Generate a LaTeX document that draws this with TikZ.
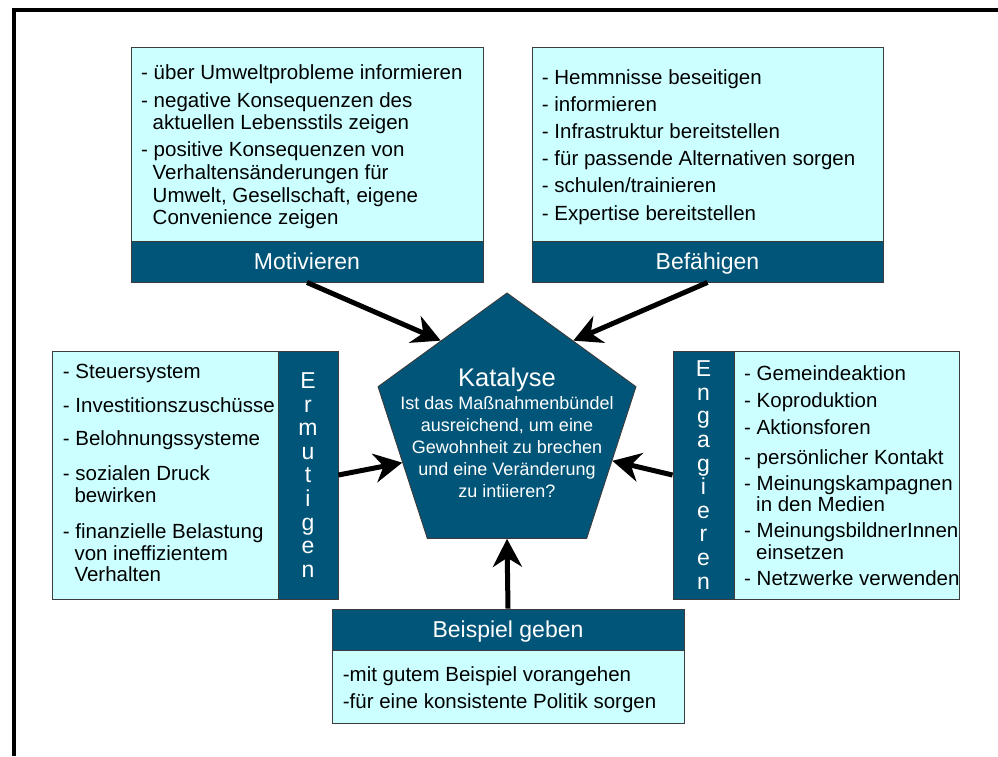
\documentclass[tikz,border=0pt]{standalone}
\usepackage{fontspec}
\setmainfont{Liberation Sans}
\usetikzlibrary{shapes.geometric,arrows.meta}
\definecolor{lightc}{RGB}{204,255,255}
\definecolor{darkc}{RGB}{0,85,120}
\definecolor{edgec}{RGB}{60,60,60}
\begin{document}
\begin{tikzpicture}[x=1pt,y=-1pt,
  lightbox/.style={draw=edgec, line width=0.9pt, fill=lightc, inner sep=0pt},
  darkbox/.style={draw=edgec, line width=0.9pt, fill=darkc, inner sep=0pt, text=white,
    font=\fontsize{23}{23.6}\selectfont},
  titlebox/.style={darkbox, text height=16.5pt, text depth=0pt},
  vertbox/.style={darkbox, align=center},
  itemtext/.style={anchor=base west, inner sep=0pt, font=\fontsize{20.5}{24}\selectfont},
  arr/.style={line width=5pt, -{Stealth[length=28pt,width=29pt,inset=9pt]}}
]
\useasboundingbox (0,0) rectangle (998,756);
\draw[line width=3.2pt] (14,756) -- (14,10) -- (998,10);

% Motivieren
\node[lightbox, minimum width=352pt, minimum height=194pt] (motB) at (307,144) {};
\node[titlebox, minimum width=352pt, minimum height=41pt] (motT) at (307,261.5) {Motivieren};
\foreach \x/\y/\t [count=\i] in {
  141/79.3/{- über Umweltprobleme informieren},
  141/107.7/{- negative Konsequenzen des},
  152.5/129.3/{aktuellen Lebensstils zeigen},
  141/156.7/{- positive Konsequenzen von},
  152.5/179.3/{Verhaltensänderungen für},
  152.5/202/{Umwelt, Gesellschaft, eigene},
  152.5/224.3/{Convenience zeigen}}
  \node[itemtext] (mot\i) at (\x,\y) {\t};

% Befaehigen
\node[lightbox, minimum width=351pt, minimum height=194pt] (befB) at (707.5,144) {};
\node[titlebox, minimum width=351pt, minimum height=41pt] (befT) at (707.5,261.5) {Befähigen};
\foreach \y/\t [count=\i] in {
  84.3/{- Hemmnisse beseitigen},
  111/{- informieren},
  138.3/{- Infrastruktur bereitstellen},
  165/{- für passende Alternativen sorgen},
  192.7/{- schulen/trainieren},
  220/{- Expertise bereitstellen}}
  \node[itemtext] (bef\i) at (541.7,\y) {\t};

% Ermutigen
\node[lightbox, minimum width=226pt, minimum height=248pt] (ermB) at (165,475) {};
\node[vertbox, minimum width=60pt, minimum height=248pt] (ermT) at (308,475)
  {E\\r\\m\\u\\t\\i\\g\\e\\n};
\foreach \x/\y/\t [count=\i] in {
  62.7/378.3/{- Steuersystem},
  62.7/412/{- Investitionszuschüsse},
  62.7/445.3/{- Belohnungssysteme},
  62.7/480.3/{- sozialen Druck},
  74.3/502.7/{bewirken},
  62.7/538.7/{- finanzielle Belastung},
  74.3/560.3/{von ineffizientem},
  74.3/581.3/{Verhalten}}
  \node[itemtext] (erm\i) at (\x,\y) {\t};

% Engagieren
\node[lightbox, minimum width=225pt, minimum height=248pt] (engB) at (846.5,475) {};
\node[vertbox, minimum width=61pt, minimum height=248pt] (engT) at (703.5,475)
  {E\\n\\g\\a\\g\\i\\e\\r\\e\\n};
\foreach \x/\y/\t [count=\i] in {
  744/380/{- Gemeindeaktion},
  744/407.7/{- Koproduktion},
  744/434.3/{- Aktionsforen},
  744/464.3/{- persönlicher Kontakt},
  744/490/{- Meinungskampagnen},
  756/511.7/{in den Medien},
  744/537.7/{- MeinungsbildnerInnen},
  756/559.3/{einsetzen},
  744/585.3/{- Netzwerke verwenden}}
  \node[itemtext] (eng\i) at (\x,\y) {\t};

% Beispiel geben
\node[titlebox, minimum width=352pt, minimum height=41pt] (beiT) at (508,629.5) {Beispiel geben};
\node[lightbox, minimum width=352pt, minimum height=73pt] (beiB) at (508,686.5) {};
\node[itemtext] (bei1) at (342.7,681.7) {-mit gutem Beispiel vorangehen};
\node[itemtext] (bei2) at (342.7,708.7) {-für eine konsistente Politik sorgen};

% Katalyse pentagon
\node[regular polygon, regular polygon sides=5, minimum size=271.2pt, inner sep=0pt,
  draw=edgec, line width=0.9pt, fill=darkc] (pent) at (507,428.6) {};
\node[anchor=base, inner sep=0pt, text=white, font=\fontsize{25.5}{28}\selectfont]
  (kat) at (507,386.5) {Katalyse};
\node[align=center, inner sep=0pt, text=white, font=\fontsize{18}{22}\selectfont]
  (katq) at (507,447) {Ist das Maßnahmenbündel\\ausreichend, um eine\\Gewohnheit zu brechen\\und eine Veränderung\\zu intiieren?};

% arrows
\draw[arr] (motT.south) -- (pent.127);
\draw[arr] (befT.south) -- (pent.53.3);
\draw[arr] (ermT.east) -- (pent.198.3);
\draw[arr] (engT.west) -- (pent.343.5);
\draw[arr] (beiT.north) -- (pent.270);
\end{tikzpicture}
\end{document}
